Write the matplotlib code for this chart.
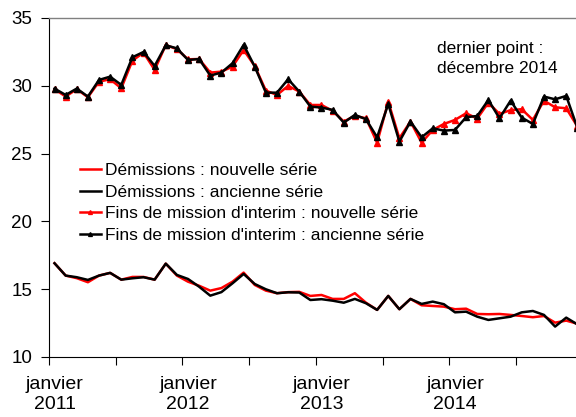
import numpy as np
import matplotlib
matplotlib.use("Agg")
import matplotlib.pyplot as plt

plt.rcParams['font.family'] = ['Liberation Sans', 'DejaVu Sans']

# Mois de janvier 2011 à décembre 2014
mois = np.arange(48)

# Fins de mission d'interim
fins_nouvelle = [29.75, 29.2, 29.75, 29.15, 30.3, 30.48, 29.81, 31.85, 32.44, 31.17, 33.0, 32.7,
                 31.95, 31.97, 30.97, 31.04, 31.41, 32.64, 31.45, 29.64, 29.32, 29.99, 29.57, 28.58,
                 28.58, 28.15, 27.36, 27.78, 27.6, 25.8, 28.83, 26.13, 27.36, 25.8, 26.74, 27.18,
                 27.48, 27.97, 27.58, 28.75, 27.92, 28.2, 28.27, 27.48, 28.9, 28.41, 28.34, 27.0]
fins_ancienne = [29.79, 29.32, 29.79, 29.2, 30.43, 30.67, 30.06, 32.1, 32.49, 31.46, 32.98, 32.76,
                 31.9, 31.97, 30.75, 30.97, 31.66, 33.01, 31.41, 29.49, 29.49, 30.48, 29.57, 28.46,
                 28.39, 28.22, 27.28, 27.85, 27.53, 26.2, 28.66, 25.88, 27.36, 26.2, 26.86, 26.69,
                 26.74, 27.68, 27.77, 28.95, 27.6, 28.9, 27.65, 27.18, 29.2, 29.0, 29.25, 26.9]

# Démissions
dem_nouvelle = [16.91, 16.0, 15.81, 15.51, 16.0, 16.2, 15.7, 15.9, 15.9, 15.7, 16.88, 16.0,
                15.55, 15.25, 14.89, 15.08, 15.55, 16.22, 15.31, 14.89, 14.7, 14.78, 14.8, 14.5,
                14.57, 14.28, 14.28, 14.7, 14.0, 13.47, 14.5, 13.52, 14.28, 13.81, 13.76, 13.71,
                13.52, 13.56, 13.17, 13.15, 13.17, 13.1, 13.02, 12.93, 13.02, 12.53, 12.68, 12.45]
dem_ancienne = [16.91, 16.0, 15.88, 15.68, 16.0, 16.2, 15.7, 15.8, 15.88, 15.7, 16.88, 16.05,
                15.75, 15.18, 14.52, 14.78, 15.43, 16.12, 15.38, 14.99, 14.7, 14.77, 14.75, 14.2,
                14.26, 14.15, 14.0, 14.28, 13.96, 13.47, 14.5, 13.52, 14.28, 13.91, 14.08, 13.89,
                13.29, 13.34, 12.97, 12.73, 12.85, 12.97, 13.29, 13.39, 13.1, 12.24, 12.9, 12.4]

annees = ["2011", "2012", "2013", "2014"]

fig = plt.figure(figsize=(5.76, 4.17), dpi=100)
ax = fig.add_axes([0.085, 0.144, 0.927, 0.813])

ax.plot(mois, dem_nouvelle, color="red", lw=1.8, label="Démissions : nouvelle série")
ax.plot(mois, dem_ancienne, color="black", lw=1.8, label="Démissions : ancienne série")
ax.plot(mois, fins_nouvelle, color="red", lw=1.8, marker="^", markersize=4,
        label="Fins de mission d'interim : nouvelle série")
ax.plot(mois, fins_ancienne, color="black", lw=1.8, marker="^", markersize=4,
        label="Fins de mission d'interim : ancienne série")

ax.set_xlim(-0.5, 47.5)
ax.set_ylim(10, 35)
ax.set_yticks([10, 15, 20, 25, 30, 35])

# graduations entre les mois, étiquettes sur janvier
ax.set_xticks(np.arange(-0.5, 48, 6))
ax.set_xticklabels([])
ax.set_xticks(np.arange(0, 48, 12), minor=True)
ax.set_xticklabels(["janvier\n" + a for a in annees], minor=True, linespacing=1.2)
ax.tick_params(axis="x", which="minor", length=0, pad=14, labelsize=14)
ax.tick_params(axis="x", which="major", length=6, direction="out")
ax.tick_params(axis="y", length=6, direction="out", labelsize=13.5, pad=6)

ax.spines["right"].set_visible(False)
ax.spines["top"].set_color("#808080")
ax.spines["top"].set_linewidth(1.0)

ax.text(0.727, 0.932, "dernier point :\ndécembre 2014", transform=ax.transAxes,
        fontsize=12.5, va="top", ha="left", linespacing=1.45)

ax.legend(loc="upper left", bbox_to_anchor=(0.042, 0.597), frameon=False,
          fontsize=12.5, handlelength=1.2, labelspacing=0.36, borderpad=0,
          handletextpad=0.25, markerscale=0.7)

fig.savefig("out.png", dpi=100)
